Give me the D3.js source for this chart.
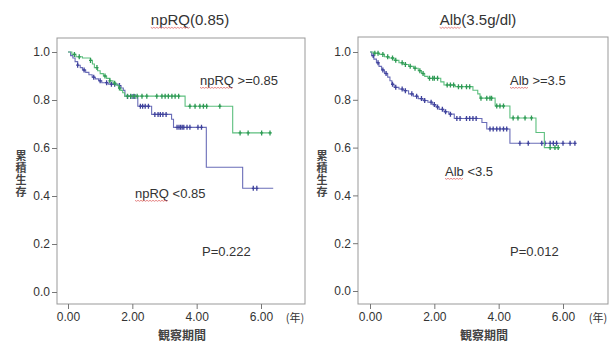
<!DOCTYPE html>
<html>
<head>
<meta charset="utf-8">
<script src="https://cdn.jsdelivr.net/npm/d3@7"></script>
<style>
  body { margin: 0; background: #fff; }
  text { font-family: "Liberation Sans", Arial, sans-serif; fill: #333; }
  .cjk { font-family: "Noto Sans CJK JP", sans-serif; font-weight: bold; fill: #444; }
</style>
</head>
<body>
<div id="chart"></div>
<script>
// tick values
const yTicks = [0, 0.2, 0.4, 0.6, 0.8, 1.0];
const xTicks = [0, 2, 4, 6];

// npRQ >= 0.85 : [years, survival] where the curve steps down
const npHighSteps = [[0, 1], [0.12, 0.99], [0.25, 0.98], [0.45, 0.975], [0.7, 0.965], [0.76, 0.95], [0.82, 0.935],
  [0.92, 0.922], [1.0, 0.91], [1.1, 0.9], [1.2, 0.89], [1.3, 0.88], [1.4, 0.87], [1.5, 0.862], [1.58, 0.85],
  [1.64, 0.84], [1.7, 0.83], [1.76, 0.816], [3.64, 0.774], [5.12, 0.663]];
const npHighEnd = 6.33;
const npHighCensor = [0.2, 0.35, 0.7, 0.9, 1.15, 1.3, 1.45, 1.6, 1.85, 1.95, 2.05, 2.15, 2.3, 2.45, 2.76, 2.92,
  3.02, 3.12, 3.23, 3.33, 3.44, 3.79, 3.95, 4.1, 4.21, 4.31, 4.72, 5.35, 5.6, 6.02, 6.28];

// npRQ < 0.85
const npLowSteps = [[0, 1], [0.08, 0.985], [0.15, 0.975], [0.22, 0.96], [0.3, 0.945], [0.38, 0.935], [0.45, 0.925],
  [0.55, 0.915], [0.65, 0.905], [0.75, 0.895], [0.85, 0.888], [0.95, 0.88], [1.05, 0.872], [1.25, 0.866],
  [1.55, 0.86], [1.65, 0.85], [1.72, 0.84], [1.77, 0.815], [2.17, 0.774], [2.6, 0.74], [3.22, 0.72],
  [3.28, 0.686], [4.3, 0.52], [5.43, 0.432]];
const npLowEnd = 6.38;
const npLowCensor = [0.3, 0.5, 0.8, 1.0, 1.2, 1.35, 1.45, 1.6, 1.85, 1.95, 2.02, 2.08, 2.25, 2.32, 2.4, 2.5,
  2.7, 2.8, 2.87, 2.95, 3.05, 3.39, 3.45, 3.5, 3.55, 3.6, 3.7, 3.79, 4.04, 4.15, 5.76, 5.87];

// Alb >= 3.5
const albHighSteps = [[0, 1], [0.1, 0.995], [0.3, 0.99], [0.45, 0.98], [0.6, 0.975], [0.75, 0.965], [0.9, 0.955],
  [1.05, 0.948], [1.2, 0.94], [1.35, 0.932], [1.5, 0.922], [1.6, 0.91], [1.7, 0.898], [1.8, 0.89], [2.2, 0.875],
  [2.3, 0.862], [2.65, 0.855], [3.2, 0.84], [3.35, 0.825], [3.42, 0.807], [3.89, 0.774], [4.35, 0.724],
  [5.16, 0.663], [5.42, 0.6]];
const albHighEnd = 5.9;
const albHighCensor = [0.15, 0.25, 0.4, 0.55, 0.7, 0.8, 1.0, 1.1, 1.25, 1.4, 1.55, 1.65, 1.85, 1.95, 2.0, 2.1,
  2.4, 2.5, 2.6, 2.75, 2.85, 3.0, 3.1, 3.45, 3.63, 3.73, 3.78, 3.94, 4.04, 4.15, 4.45, 4.6, 4.82, 5.02,
  5.6, 5.75, 5.85];

// Alb < 3.5
const albLowSteps = [[0, 1], [0.05, 0.985], [0.12, 0.97], [0.2, 0.955], [0.28, 0.94], [0.36, 0.925], [0.45, 0.91],
  [0.55, 0.895], [0.62, 0.88], [0.68, 0.865], [0.75, 0.852], [0.9, 0.845], [1.05, 0.838], [1.2, 0.825],
  [1.35, 0.815], [1.5, 0.805], [1.65, 0.797], [1.8, 0.79], [1.95, 0.78], [2.05, 0.77], [2.15, 0.76],
  [2.3, 0.75], [2.45, 0.74], [2.62, 0.722], [3.48, 0.705], [3.63, 0.678], [4.35, 0.618]];
const albLowEnd = 6.42;
const albLowCensor = [0.1, 0.25, 0.4, 0.5, 0.7, 0.8, 1.0, 1.1, 1.3, 1.45, 1.6, 1.7, 1.9, 2.0, 2.1, 2.25, 2.35,
  2.5, 2.7, 2.8, 3.0, 3.1, 3.2, 3.3, 3.73, 3.83, 3.94, 4.04, 4.15, 4.25, 4.66, 4.92, 5.34, 5.44, 5.6, 5.7,
  5.8, 6.0, 6.22, 6.37];

const green = { line: "#5cbf7e", mark: "#2f9a55" };
const blue = { line: "#6a6db8", mark: "#3f429c" };

const width = 613;
const height = 344;

const svg = d3.select("#chart").append("svg")
  .attr("width", width)
  .attr("height", height);

const panels = [
  {
    title: "npRQ(0.85)", titleX: 190, ulChars: 4,
    frame: { x0: 57, x1: 305, y0: 38, y1: 304 },
    xRange: [68, 261], yRange: [292, 52],
    series: [
      { steps: npLowSteps, end: npLowEnd, censor: npLowCensor, color: blue },
      { steps: npHighSteps, end: npHighEnd, censor: npHighCensor, color: green },
    ],
    labels: [
      { text: "npRQ >=0.85", x: 200, y: 85, ul: 4 },
      { text: "npRQ <0.85", x: 135, y: 198, ul: 4 },
      { text: "P=0.222", x: 202, y: 256, ul: 0 },
    ],
  },
  {
    title: "Alb(3.5g/dl)", titleX: 478, ulChars: 3,
    frame: { x0: 358, x1: 608, y0: 37, y1: 304 },
    xRange: [370, 563], yRange: [291, 52],
    series: [
      { steps: albLowSteps, end: albLowEnd, censor: albLowCensor, color: blue },
      { steps: albHighSteps, end: albHighEnd, censor: albHighCensor, color: green },
    ],
    labels: [
      { text: "Alb >=3.5", x: 510, y: 85, ul: 3 },
      { text: "Alb <3.5", x: 445, y: 176, ul: 3 },
      { text: "P=0.012", x: 510, y: 256, ul: 0 },
    ],
  },
];

// red spell-check squiggle under the first n chars of a text node
function squiggle(g, textSel, n) {
  if (!n) { return; }
  const node = textSel.node();
  const x0 = +textSel.attr("x");
  const y0 = +textSel.attr("y") + 2.5;
  const w = node.getSubStringLength(0, n);
  const pts = [];
  for (let px = 0; px <= w; px += 1.5) {
    pts.push([x0 + px, y0 + ((Math.round(px / 1.5) % 2) ? 0.8 : -0.2)]);
  }
  g.append("path")
    .attr("d", d3.line()(pts))
    .attr("fill", "none")
    .attr("stroke", "#e06a6a")
    .attr("stroke-width", 0.8);
}

function survAt(steps, t) {
  let s = steps[0][1];
  steps.forEach((d) => { if (d[0] <= t) { s = d[1]; } });
  return s;
}

panels.forEach((p) => {
  const g = svg.append("g");
  const x = d3.scaleLinear().domain([0, 6]).range(p.xRange);
  const y = d3.scaleLinear().domain([0, 1]).range(p.yRange);

  g.append("rect")
    .attr("x", p.frame.x0)
    .attr("y", p.frame.y0)
    .attr("width", p.frame.x1 - p.frame.x0)
    .attr("height", p.frame.y1 - p.frame.y0)
    .attr("fill", "#fff")
    .attr("stroke", "#999")
    .attr("stroke-width", 1);

  const yAxis = g.append("g")
    .attr("transform", `translate(${p.frame.x0},0)`)
    .call(d3.axisLeft(y).tickValues(yTicks).tickFormat(d3.format(".1f")).tickSize(5).tickPadding(2));
  const xAxis = g.append("g")
    .attr("transform", `translate(0,${p.frame.y1})`)
    .call(d3.axisBottom(x).tickValues(xTicks).tickFormat(d3.format(".2f")).tickSize(5).tickPadding(3));
  [yAxis, xAxis].forEach((a) => {
    a.select(".domain").remove();
    a.selectAll("line").attr("stroke", "#777");
    a.selectAll("text").attr("fill", "#333").style("font-size", "12px")
      .style("font-family", "\"Liberation Sans\", Arial, sans-serif");
  });

  const line = d3.line()
    .x((d) => x(d[0]))
    .y((d) => y(d[1]))
    .curve(d3.curveStepAfter);

  p.series.forEach((s) => {
    const pts = s.steps.concat([[s.end, s.steps[s.steps.length - 1][1]]]);
    g.append("path")
      .attr("d", line(pts))
      .attr("fill", "none")
      .attr("stroke", s.color.line)
      .attr("stroke-width", 1.1);

    g.append("g").selectAll("path")
      .data(s.censor)
      .enter()
      .append("path")
      .attr("d", (t) => {
        const cx = x(t);
        const cy = y(survAt(s.steps, t));
        return `M${cx},${cy - 2.5}V${cy + 2.5}M${cx - 1.5},${cy}H${cx + 1.5}`;
      })
      .attr("stroke", s.color.mark)
      .attr("stroke-width", 1.3);
  });

  const title = g.append("text")
    .attr("x", p.titleX)
    .attr("y", 25)
    .style("font-size", "15px")
    .text(p.title);
  const tw = title.node().getComputedTextLength();
  title.attr("x", p.titleX - tw / 2);
  squiggle(g, title, p.ulChars);

  p.labels.forEach((l) => {
    const t = g.append("text")
      .attr("x", l.x)
      .attr("y", l.y)
      .style("font-size", "13px")
      .text(l.text);
    squiggle(g, t, l.ul);
  });

  // y title, written top to bottom
  g.append("text")
    .attr("class", "cjk")
    .attr("x", p.frame.x0 - 36)
    .attr("y", 150)
    .style("font-size", "11px")
    .style("writing-mode", "vertical-rl")
    .style("letter-spacing", "1px")
    .text("累積生存");

  g.append("text")
    .attr("class", "cjk")
    .attr("x", (p.frame.x0 + p.frame.x1) / 2 + 1)
    .attr("y", 340)
    .attr("text-anchor", "middle")
    .style("font-size", "12px")
    .text("観察期間");

  g.append("text")
    .attr("x", p.frame.x1 - 10)
    .attr("y", 322)
    .attr("text-anchor", "middle")
    .style("font-size", "11px")
    .style("font-family", "\"Noto Sans CJK JP\", sans-serif")
    .text("(年)");
});
</script>
</body>
</html>
